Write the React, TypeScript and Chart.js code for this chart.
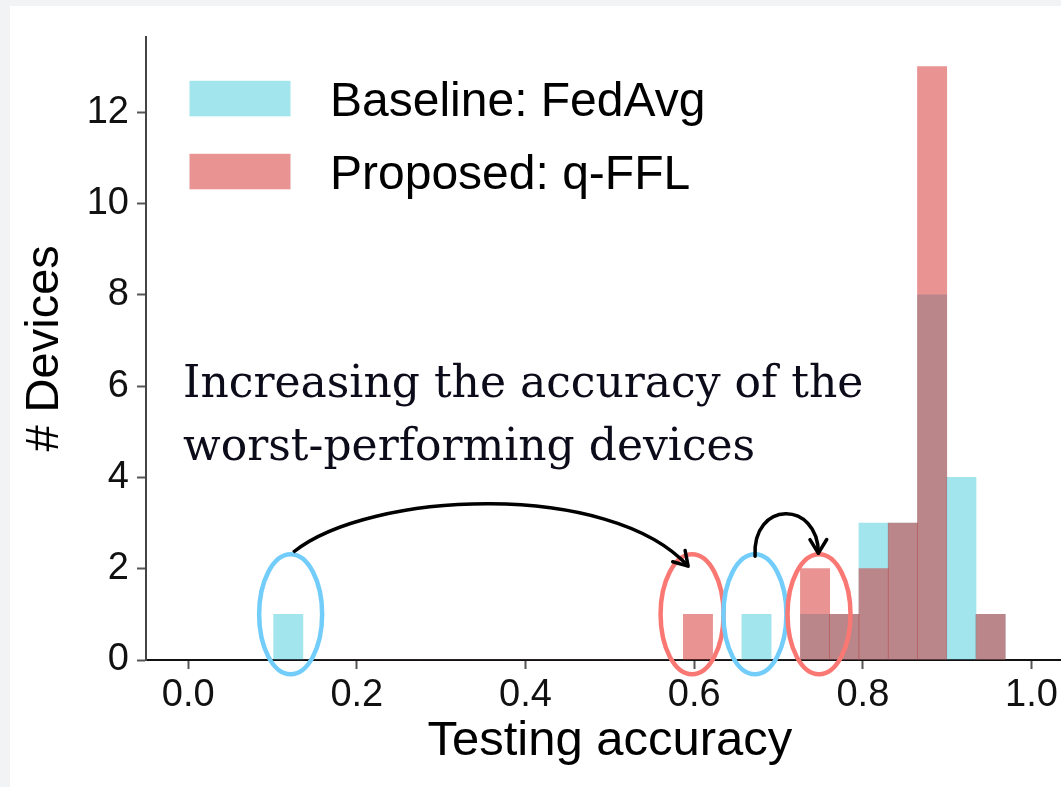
import { useEffect, useRef } from 'react';
import { Chart, registerables } from 'chart.js';

Chart.register(...registerables);

// ---- data ----
const binCenters = [
  0.1187, 0.1534, 0.1881, 0.2228, 0.2575, 0.2922, 0.3269, 0.3616, 0.3963, 0.431,
  0.4657, 0.5004, 0.5351, 0.5698, 0.6045, 0.6392, 0.6739, 0.7086, 0.7433, 0.778,
  0.8127, 0.8474, 0.8821, 0.9168, 0.9515,
];
const fedAvgCounts = [1, 0, 0, 0, 0, 0, 0, 0, 0, 0, 0, 0, 0, 0, 0, 0, 1, 0, 1, 1, 3, 3, 8, 4, 1];
const qfflCounts = [0, 0, 0, 0, 0, 0, 0, 0, 0, 0, 0, 0, 0, 0, 1, 0, 0, 0, 2, 1, 2, 3, 13, 0, 1];
const seriesLabels = ['Baseline: FedAvg', 'Proposed: q-FFL'];
const xTicks = [0, 0.2, 0.4, 0.6, 0.8, 1.0];
const yTicks = [0, 2, 4, 6, 8, 10, 12];
const xTitle = 'Testing accuracy';
const yTitle = '# Devices';
const noteLines = ['Increasing the accuracy of the', 'worst-performing devices'];

// annotation anchors (data units)
const ellipseXs = [0.1215, 0.5975, 0.672, 0.748];
const ellipseSeries = [0, 1, 0, 1];
const bigArrow = [[0.1245, 2.36], [0.2158, 3.716], [0.5003, 3.934], [0.5928, 2.055]];
const smallArrow = [[0.6722, 2.273], [0.6686, 3.5], [0.7469, 3.5], [0.7473, 2.339]];
const noteAnchor = [-0.006, 5.757];

const CYAN = 'rgba(23,190,207,0.4)';
const RED = 'rgba(214,39,40,0.5)';
const ELLIPSE_COLORS = ['#73cdfa', '#fa7873'];
const SANS = '"Liberation Sans", Arial, sans-serif';

const overlayPlugin = {
  id: 'overlay',
  afterDatasetsDraw(chart: any) {
    const { ctx, chartArea, scales } = chart;
    const xs = scales.x;
    const ys = scales.y;
    const px = (v: number) => xs.getPixelForValue(v);
    const py = (v: number) => ys.getPixelForValue(v);
    ctx.save();

    // ellipses
    ellipseXs.forEach((ex, i) => {
      ctx.beginPath();
      ctx.ellipse(px(ex), py(1.0), 31.5, 60, 0, 0, Math.PI * 2);
      ctx.strokeStyle = ELLIPSE_COLORS[ellipseSeries[i]];
      ctx.lineWidth = 4.5;
      ctx.stroke();
    });

    // arrows
    [bigArrow, smallArrow].forEach((arr) => {
      const p = arr.map(([vx, vy]) => [px(vx), py(vy)]);
      ctx.beginPath();
      ctx.moveTo(p[0][0], p[0][1]);
      ctx.bezierCurveTo(p[1][0], p[1][1], p[2][0], p[2][1], p[3][0], p[3][1]);
      ctx.strokeStyle = '#000';
      ctx.lineWidth = 3.5;
      ctx.stroke();
      const ang = Math.atan2(p[3][1] - p[2][1], p[3][0] - p[2][0]);
      ctx.beginPath();
      for (const s of [-1, 1]) {
        const a2 = ang + Math.PI + s * 0.55;
        ctx.moveTo(p[3][0], p[3][1]);
        ctx.lineTo(p[3][0] + 16 * Math.cos(a2), p[3][1] + 16 * Math.sin(a2));
      }
      ctx.lineCap = 'round';
      ctx.stroke();
    });

    // annotation text
    ctx.fillStyle = '#0b0b1a';
    ctx.font = '44px "DejaVu Serif", serif';
    ctx.textAlign = 'left';
    ctx.textBaseline = 'alphabetic';
    noteLines.forEach((line, i) => {
      ctx.fillText(line, px(noteAnchor[0]), py(noteAnchor[1]) + i * 63);
    });

    // legend
    const colors = [CYAN, RED];
    ctx.font = `48px ${SANS}`;
    seriesLabels.forEach((lab, i) => {
      const bx = chartArea.left + 43.5;
      const by = chartArea.top + 44 + i * 73;
      ctx.fillStyle = '#fff';
      ctx.fillRect(bx, by, 101, 35.5);
      ctx.fillStyle = colors[i];
      ctx.fillRect(bx, by, 101, 35.5);
      ctx.fillStyle = '#000';
      ctx.fillText(lab, chartArea.left + 184, by + 17.75 + 0.358 * 48);
    });

    ctx.restore();
  },
};

export default function App() {
  const ref = useRef<HTMLCanvasElement | null>(null);

  useEffect(() => {
    if (!ref.current) return;
    const chart = new Chart(ref.current, {
      type: 'bar',
      data: {
        datasets: [
          {
            label: seriesLabels[0],
            data: binCenters.map((x, i) => ({ x, y: fedAvgCounts[i] })),
            backgroundColor: CYAN,
            borderWidth: 0,
            barPercentage: 1,
            categoryPercentage: 1,
            grouped: false,
            order: 2,
          },
          {
            label: seriesLabels[1],
            data: binCenters.map((x, i) => ({ x, y: qfflCounts[i] })),
            backgroundColor: RED,
            borderWidth: 0,
            barPercentage: 1,
            categoryPercentage: 1,
            grouped: false,
            order: 1,
          },
        ],
      },
      options: {
        animation: false,
        responsive: false,
        maintainAspectRatio: false,
        layout: { padding: { top: 30, right: 36.3, left: 0, bottom: 0 } },
        plugins: { legend: { display: false }, tooltip: { enabled: false } },
        scales: {
          x: {
            type: 'linear',
            min: -0.05,
            max: 1.05,
            offset: false,
            afterBuildTicks: (s: any) => {
              s.ticks = xTicks.map((v) => ({ value: v }));
            },
            afterFit: (s: any) => {
              s.height = 127;
            },
            grid: {
              offset: false,
              drawOnChartArea: false,
              drawTicks: true,
              tickLength: 9,
              tickColor: '#555',
              tickWidth: 2,
            },
            border: { display: true, color: '#111', width: 2 },
            ticks: {
              color: '#111',
              font: { family: SANS, size: 38 },
              padding: 4,
              maxRotation: 0,
              callback: (v: any) => Number(v).toFixed(1),
            },
            title: {
              display: true,
              text: xTitle,
              color: '#000',
              font: { family: SANS, size: 49 },
              padding: { top: 0, bottom: 16 },
            },
          },
          y: {
            type: 'linear',
            min: 0,
            max: 13.65,
            afterBuildTicks: (s: any) => {
              s.ticks = yTicks.map((v) => ({ value: v }));
            },
            afterFit: (s: any) => {
              s.width = 136;
            },
            grid: {
              drawOnChartArea: false,
              drawTicks: true,
              tickLength: 9,
              tickColor: '#555',
              tickWidth: 2,
            },
            border: { display: true, color: '#444', width: 2 },
            ticks: {
              color: '#111',
              font: { family: SANS, size: 38 },
              padding: 8,
              callback: (v: any) => String(v),
            },
            title: {
              display: true,
              text: yTitle,
              color: '#000',
              font: { family: SANS, size: 47 },
              padding: { top: 7, bottom: 0 },
            },
          },
        },
      },
      plugins: [overlayPlugin],
    } as any);
    return () => chart.destroy();
  }, []);

  return (
    <div
      style={{
        position: 'fixed',
        left: 0,
        top: 0,
        width: 1061,
        height: 787,
        overflow: 'hidden',
        background: '#f2f3f5',
      }}
    >
      <div style={{ position: 'absolute', left: 10, top: 6, width: 1100, height: 781, background: '#fff' }}>
        <canvas ref={ref} width={1100} height={781} style={{ display: 'block', width: 1100, height: 781 }} />
      </div>
    </div>
  );
}
